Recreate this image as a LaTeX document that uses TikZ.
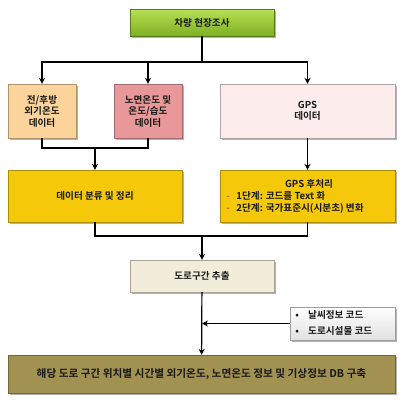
\documentclass[tikz,border=0pt]{standalone}
\usepackage{fontspec}
\setmainfont{Noto Sans CJK KR}[BoldFont={Noto Sans CJK KR Bold}]
\usetikzlibrary{shadows,arrows.meta}
\definecolor{cgreenT}{RGB}{185,225,85}
\definecolor{cgreenB}{RGB}{125,175,35}
\definecolor{cpeach}{RGB}{250,212,155}
\definecolor{cpink}{RGB}{232,152,152}
\definecolor{clpink}{RGB}{252,236,236}
\definecolor{cgold}{RGB}{245,200,10}
\definecolor{cbeige}{RGB}{241,237,218}
\definecolor{colive}{RGB}{162,146,82}
\definecolor{cgray}{RGB}{225,225,225}
\definecolor{ctext}{RGB}{25,25,25}
\begin{document}
\begin{tikzpicture}[x=0.75pt,y=-0.75pt,
  box/.style={rectangle, inner sep=0pt, align=center, font=\fontsize{7.2}{8.6}\selectfont\bfseries, text=ctext,
    draw=#1!70!black, line width=0.3pt, fill=#1,
    drop shadow={shadow xshift=1.3pt, shadow yshift=-1.3pt, opacity=0.3, fill=black}},
  lbl/.style={inner sep=0pt, font=\fontsize{7.2}{8.6}\selectfont\bfseries, text=ctext},
  conn/.style={line width=0.9pt, black},
  arr/.style={conn, -{Stealth[length=4.5pt,width=4.5pt]}}]
\useasboundingbox (0,0) rectangle (407,404);
% boxes
\node[box=cgreenB, top color=cgreenT, bottom color=cgreenB, minimum width=108pt, minimum height=20.25pt] (top) at (202,22.5) {차량 현장조사};
\node[box=cpeach, minimum width=51pt, minimum height=40.5pt] (b1) at (42,111) {전/후방\\외기온도\\데이터};
\node[box=cpink, minimum width=51pt, minimum height=40.5pt] (b2) at (148,111) {노면온도 및\\온도/습도\\데이터};
\node[box=clpink, minimum width=131.25pt, minimum height=40.5pt] (b3) at (307.5,111) {GPS\\데이터};
\node[box=cgold, minimum width=130.5pt, minimum height=39pt] (b4) at (95,196) {데이터 분류 및 정리};
\node[box=cgold, minimum width=131.25pt, minimum height=39pt] (b5) at (307.5,196) {};
\node[lbl] (b5t) at (309,184) {GPS 후처리};
\node[lbl, anchor=west] (b5a) at (226,196) {\textcolor{orange!80!black}{-}\hspace{5pt}1단계: 코드를 Text 화};
\node[lbl, anchor=west] (b5b) at (226,208.5) {\textcolor{orange!80!black}{-}\hspace{5pt}2단계: 국가표준시(시분초) 변화};
\node[box=cbeige, minimum width=108pt, minimum height=24pt] (b6) at (202,276) {도로구간 추출};
\node[box=cgray, top color=white, bottom color=cgray, minimum width=78.75pt, minimum height=24.75pt] (b7) at (342.5,323.5) {};
\node[lbl, anchor=west] (b7a) at (295,315) {•\hspace{7pt}날씨정보 코드};
\node[lbl, anchor=west] (b7b) at (295,331) {•\hspace{7pt}도로시설물 코드};
\node[box=colive, minimum width=290.25pt, minimum height=28.5pt, font=\fontsize{8}{9}\selectfont\bfseries] (b8) at (201.5,374) {해당 도로 구간 위치별 시간별 외기온도, 노면온도 정보 및 기상정보 DB 구축};
% junctions
\coordinate (j1) at (202,62);
\coordinate (j2) at (95,148);
\coordinate (j3) at (202,236);
\coordinate (j4) at (202,323.5);
% connectors
\draw[conn] (top) -- (j1);
\draw[arr] (j1) -| (b1);
\draw[arr] (j1) -| (b2);
\draw[arr] (j1) -| (b3);
\draw[conn] (b1) |- (j2);
\draw[conn] (b2) |- (j2);
\draw[arr] (j2) -- (b4);
\draw[arr] (b3) -- (b5);
\draw[conn] (b4) |- (j3);
\draw[conn] (b5) |- (j3);
\draw[arr] (j3) -- (b6);
\draw[arr] (b6) -- (b8);
\draw[arr] (b7) -- (j4);
\end{tikzpicture}
\end{document}
